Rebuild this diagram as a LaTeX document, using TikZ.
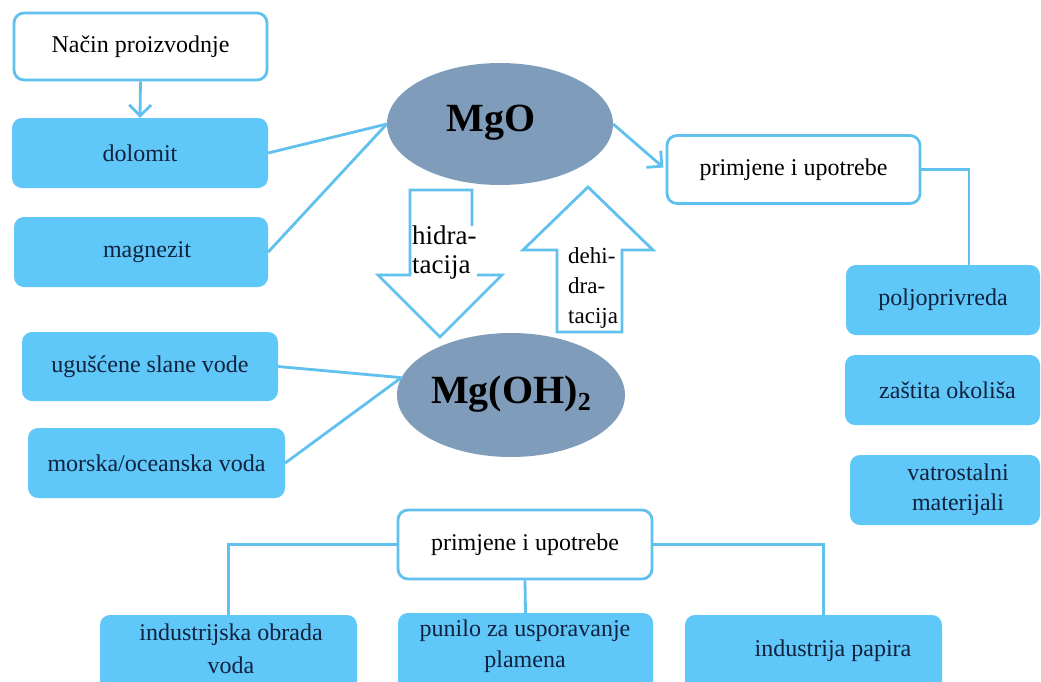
\documentclass[tikz,border=0pt]{standalone}
\usepackage{fontspec}
\setmainfont{Liberation Serif}
\usetikzlibrary{shapes.geometric,arrows.meta}
\definecolor{lineblue}{RGB}{96,192,238}
\definecolor{boxblue}{RGB}{96,199,249}
\definecolor{ellgrey}{RGB}{127,157,186}
\definecolor{navytext}{RGB}{16,34,62}
\tikzset{
  wbox/.style={draw=lineblue, line width=2.8pt, rounded corners=10pt, fill=white,
    inner sep=0pt, align=center, font=\fontsize{24}{29}\selectfont, text=black},
  bbox/.style={fill=boxblue, rounded corners=10pt, inner sep=0pt, align=center,
    font=\fontsize{24}{30}\selectfont, text=navytext},
  btext/.style={text=navytext, align=center, inner sep=0pt},
  ell/.style={ellipse, fill=ellgrey, inner sep=0pt},
  conn/.style={draw=lineblue, line width=2.8pt},
  arr/.style={conn, -{Straight Barb[length=11pt,width=22pt,line width=2.8pt]}},
  bigarrow/.style={draw=lineblue, line width=2.8pt, fill=white, line join=miter},
  arrtext/.style={align=left, inner sep=0pt, fill=white, anchor=north west},
  chem/.style={font=\fontsize{40}{44}\selectfont\bfseries, text=black, inner sep=0pt}
}
\begin{document}
\begin{tikzpicture}[x=1pt,y=-1pt]
\clip (0,0) rectangle (1041,681);
\fill[white] (0,0) rectangle (1041,681);

% big arrows
\draw[bigarrow] (410,190) -- (472,190) -- (472,275) -- (502,275) -- (440,337) -- (378,275) -- (410,275) -- cycle;
\draw[bigarrow] (588,187) -- (653,250) -- (622,250) -- (622,332) -- (557,332) -- (557,250) -- (523,250) -- cycle;
\node[arrtext, font=\fontsize{27}{29}\selectfont] (hyd) at (412,226) {hidra-\\tacija};
\node[arrtext, font=\fontsize{23}{30}\selectfont] (dehyd) at (568,247) {dehi-\\dra-\\tacija};

% ellipses
\node[ell, minimum width=226pt, minimum height=122pt] (mgo) at (500,124) {};
\node[chem] (mgotext) at (491,123) {MgO};
\node[ell, minimum width=228pt, minimum height=124pt] (mgoh) at (511,395) {};
\node[chem] (mgohtext) at (511,394) {Mg(OH){\fontsize{26}{26}\selectfont\raisebox{-7pt}{2}}};

% production
\node[wbox, minimum width=253pt, minimum height=67pt] (np) at (140.5,46.5) {Način proizvodnje};
\node[bbox, minimum width=256pt, minimum height=70pt] (dol) at (140,153) {dolomit};
\node[bbox, minimum width=254pt, minimum height=70pt] (mag) at (141,252) {\hspace{12pt}magnezit};
\node[bbox, minimum width=256pt, minimum height=69pt] (ug) at (150,366.5) {ugušćene slane vode};
\node[bbox, minimum width=257pt, minimum height=70pt] (mor) at (156.5,463) {morska/oceanska voda};

% MgO uses
\node[wbox, minimum width=253pt, minimum height=68pt] (p1) at (793.5,169.5) {primjene i upotrebe};
\node[bbox, minimum width=194pt, minimum height=70pt] (pol) at (943,300) {poljoprivreda};
\node[bbox, minimum width=195pt, minimum height=70pt] (zas) at (942.5,390) {\hspace{10pt}zaštita okoliša};
\node[bbox, minimum width=190pt, minimum height=70pt] (vat) at (945,490) {\hspace{26pt}vatrostalni\\\hspace{26pt}materijali};

% Mg(OH)2 uses
\node[wbox, minimum width=254pt, minimum height=69pt] (p2) at (525,544.5) {primjene i upotrebe};
\node[bbox, minimum width=257pt, minimum height=78pt] (ind) at (228.5,654) {};
\node[btext, font=\fontsize{24}{33}\selectfont] (indt) at (231,649) {industrijska obrada\\voda};
\node[bbox, minimum width=255pt, minimum height=80pt] (pun) at (525.5,653) {};
\node[btext, font=\fontsize{24}{31}\selectfont] (punt) at (525,646) {punilo za usporavanje\\plamena};
\node[bbox, minimum width=257pt, minimum height=78pt] (pap) at (813.5,654) {};
\node[btext, font=\fontsize{24}{30}\selectfont] (papt) at (833,651) {industrija papira};

% connectors
\draw[arr] (np.south) -- (dol.north);
\draw[conn] (dol.east) -- (mgo.west);
\draw[conn] (mag.east) -- (mgo.west);
\draw[arr, shorten >=3pt] (mgo.east) -- (p1.west);
\draw[conn] (p1.east) -| ([xshift=26pt]pol.north);
\draw[conn] (ug.east) -- (mgoh.171);
\draw[conn] (mor.east) -- (mgoh.171);
\draw[conn] (p2.west) -| (ind.north);
\draw[conn] (p2.south) -- (pun.north);
\draw[conn] (p2.east) -| ([xshift=10pt]pap.north);
\end{tikzpicture}
\end{document}
